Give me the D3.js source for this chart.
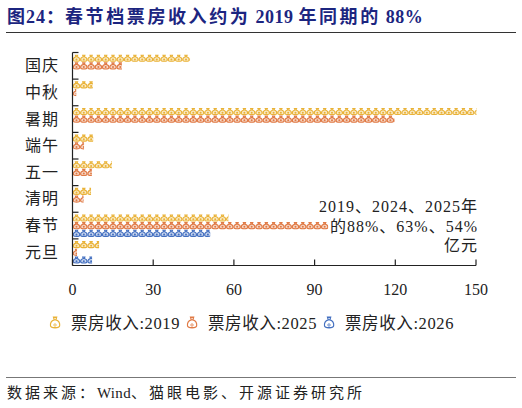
<!DOCTYPE html>
<html>
<head>
<meta charset="utf-8">
<script src="https://cdn.jsdelivr.net/npm/d3@7"></script>
<style>
  body { margin: 0; background: #fff; }
  svg { display: block; }
  text { font-family: "Liberation Serif", "Noto Sans CJK SC", serif; fill: #222; }
</style>
</head>
<body>
<svg width="522" height="408"></svg>
<script>
// holiday periods, top to bottom
const categories = ['国庆', '中秋', '暑期', '端午', '五一', '清明', '春节', '元旦'];
const seriesNames = ['票房收入:2019', '票房收入:2025', '票房收入:2026'];
// box office, 亿元 (暑期 2019 runs past the axis end)
const box2019 = [43.5, 7.4, 150, 7.5, 14.5, 6.7, 57.8, 9.7];
const box2025 = [18.2, 1.2, 119.5, 4.1, 7.0, 3.9, 94.9, 1.5];
const box2026 = [null, null, null, null, null, null, 51, 7.1];
const xTicks = [0, 30, 60, 90, 120, 150];
const colors = ['#E9B237', '#E07A45', '#4470C0'];
const noteLines = ['2019、2024、2025年', '的88%、63%、54%', '亿元'];

const svg = d3.select('svg');
const allSeries = [box2019, box2025, box2026];

const x = d3.scaleLinear().domain([0, 150]).range([72.5, 476]);
const y = d3.scaleBand().domain(categories).range([52.5, 265.5]);
const y1 = d3.scaleBand().domain(seriesNames).range([2, 25]);

// money bag icon, drawn in a 7x7 box
const bagPath = 'M2.4,0.4 L4.6,0.4 L4.1,1.9 L2.9,1.9 Z ' +
  'M2.9,1.9 C0.8,2.5 0.1,3.9 0.35,5.4 C0.6,6.8 6.4,6.8 6.65,5.4 C6.9,3.9 6.2,2.5 4.1,1.9 Z';
const iconW = 7.3;
const iconH = 7;

// title: CJK parts spaced, latin parts tight
const title = svg.append('text')
  .attr('x', 7).attr('y', 23)
  .style('font-size', '18px').style('font-weight', 'bold');
[['图24：', 1], ['春节档票房收入约为', 2.6], [' 2019 ', 0.5], ['年同期的', 2.6], [' 88%', 0.5]]
  .forEach(([t, ls]) => title.append('tspan').style('fill', '#1c2580').style('letter-spacing', ls + 'px').text(t));
svg.append('line')
  .attr('x1', 6).attr('x2', 516).attr('y1', 32.5).attr('y2', 32.5)
  .attr('stroke', '#333').attr('stroke-width', 1);

// bars made of repeated icons, clipped at the value
const defs = svg.append('defs');
const plot = svg.append('g');
categories.forEach((cat, i) => {
  seriesNames.forEach((s, j) => {
    const v = allSeries[j][i];
    if (v == null) return;
    const w = x(Math.min(v, 150)) - x(0);
    const id = 'clip-' + i + '-' + j;
    defs.append('clipPath').attr('id', id)
      .append('rect').attr('x', 0).attr('y', -1).attr('width', w).attr('height', y1.bandwidth() + 2);
    const g = plot.append('g')
      .attr('transform', `translate(${x(0) + 0.5},${y(cat) + y1(s)})`)
      .attr('clip-path', `url(#${id})`);
    const icons = g.selectAll('g.icon')
      .data(d3.range(Math.ceil(w / iconW)))
      .enter().append('g')
      .attr('class', 'icon')
      .attr('transform', k => `translate(${k * iconW},${(y1.bandwidth() - iconH) / 2})`);
    icons.append('path')
      .attr('d', bagPath)
      .attr('fill', d3.color(colors[j]).copy({opacity: 0.3}))
      .attr('stroke', colors[j]).attr('stroke-width', 1.1);
    icons.append('circle')
      .attr('cx', 3.5).attr('cy', 4.6).attr('r', 1)
      .attr('fill', colors[j]).attr('stroke', 'none');
  });
});

// axes
const xAxis = svg.append('g').attr('transform', `translate(0,${y.range()[1]})`);
xAxis.append('line')
  .attr('x1', x(0)).attr('x2', x(150)).attr('stroke', '#222').attr('stroke-width', 1.2);
xAxis.selectAll('line.tick').data(xTicks).enter().append('line')
  .attr('class', 'tick')
  .attr('x1', d => x(d)).attr('x2', d => x(d)).attr('y1', 0).attr('y2', -6)
  .attr('stroke', '#222').attr('stroke-width', 1.2);
xAxis.selectAll('text').data(xTicks).enter().append('text')
  .attr('x', d => x(d)).attr('y', 29)
  .attr('text-anchor', 'middle').style('font-size', '16px')
  .text(d => d);

const yAxis = svg.append('g');
yAxis.append('line')
  .attr('x1', x(0)).attr('x2', x(0)).attr('y1', y.range()[0]).attr('y2', y.range()[1])
  .attr('stroke', '#222').attr('stroke-width', 1.2);
yAxis.selectAll('line.tick').data(categories).enter().append('line')
  .attr('class', 'tick')
  .attr('x1', x(0)).attr('x2', x(0) + 6)
  .attr('y1', d => y(d)).attr('y2', d => y(d))
  .attr('stroke', '#222').attr('stroke-width', 1.2);
yAxis.selectAll('text').data(categories).enter().append('text')
  .attr('x', 59).attr('y', d => y(d) + y.bandwidth() / 2 + 5.5)
  .attr('text-anchor', 'end').style('font-size', '16px').style('letter-spacing', '1px')
  .text(d => d);

// note
svg.append('g').selectAll('text').data(noteLines).enter().append('text')
  .attr('x', 478).attr('y', (d, k) => 212 + k * 19.5)
  .attr('text-anchor', 'end').style('font-size', '16px').style('letter-spacing', '1px')
  .text(d => d);

// legend
const legend = svg.append('g').selectAll('g').data(seriesNames).enter().append('g')
  .attr('transform', (d, k) => `translate(${55 + k * 137},323)`);
legend.append('path')
  .attr('d', bagPath)
  .attr('transform', 'translate(-5,-6.5) scale(1.45,1.75)')
  .attr('fill', 'none')
  .attr('stroke', (d, k) => colors[k]).attr('stroke-width', 0.8);
legend.append('circle')
  .attr('cx', 0).attr('cy', 2).attr('r', 1.2)
  .attr('fill', 'none').attr('stroke', (d, k) => colors[k]).attr('stroke-width', 0.8);
legend.append('text')
  .attr('x', 16).attr('y', 6)
  .style('font-size', '16.5px').style('letter-spacing', '0.6px')
  .text(d => d);

// source
svg.append('line')
  .attr('x1', 6).attr('x2', 516).attr('y1', 377.5).attr('y2', 377.5)
  .attr('stroke', '#777').attr('stroke-width', 1);
const source = svg.append('text')
  .attr('x', 7).attr('y', 398)
  .style('font-size', '15px');
[['数据来源：', 3], ['Wind', 0.3], ['、猫眼电影、开源证券研究所', 3]]
  .forEach(([t, ls]) => source.append('tspan').style('letter-spacing', ls + 'px').text(t));
</script>
</body>
</html>
